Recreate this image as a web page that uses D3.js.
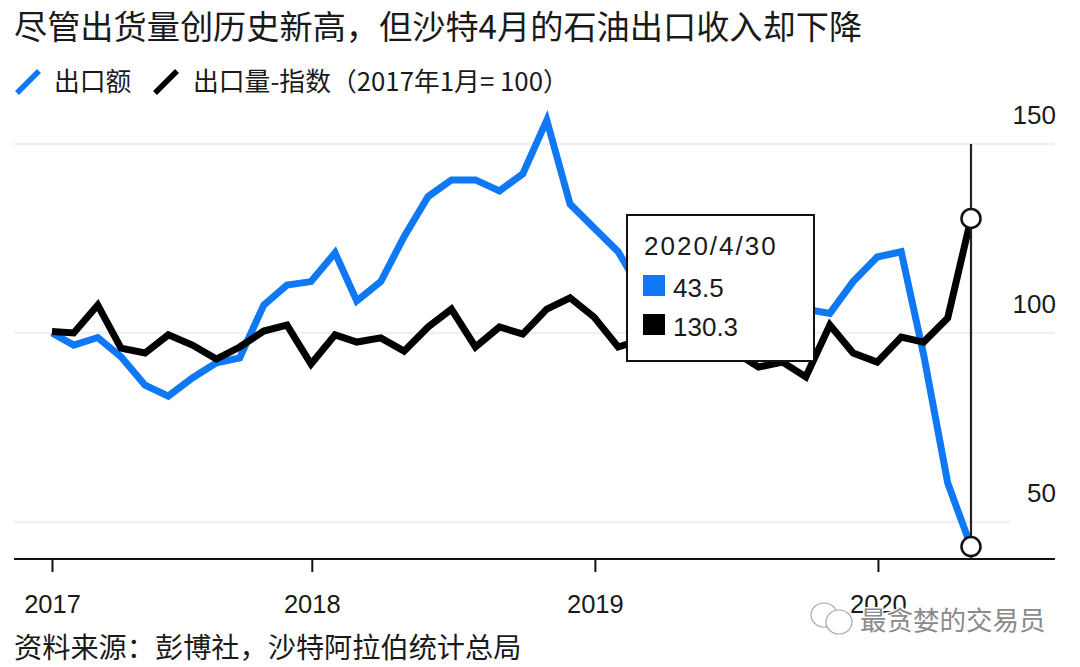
<!DOCTYPE html>
<html>
<head>
<meta charset="utf-8">
<script src="https://cdn.jsdelivr.net/npm/d3@7"></script>
<style>
  html, body { margin: 0; padding: 0; background: #fff; }
  svg { display: block; }
  text { font-family: "Noto Sans CJK SC", "Liberation Sans", sans-serif; fill: #1a1a1a; }
  .num { font-family: "Liberation Sans", sans-serif; }
</style>
</head>
<body>
<svg width="1080" height="667"></svg>
<script>
// month end dates, jan 2017 to apr 2020
var months = [
  "2017-01-31","2017-02-28","2017-03-31","2017-04-30","2017-05-31","2017-06-30","2017-07-31","2017-08-31","2017-09-30","2017-10-31","2017-11-30","2017-12-31",
  "2018-01-31","2018-02-28","2018-03-31","2018-04-30","2018-05-31","2018-06-30","2018-07-31","2018-08-31","2018-09-30","2018-10-31","2018-11-30","2018-12-31",
  "2019-01-31","2019-02-28","2019-03-31","2019-04-30","2019-05-31","2019-06-30","2019-07-31","2019-08-31","2019-09-30","2019-10-31","2019-11-30","2019-12-31",
  "2020-01-31","2020-02-29","2020-03-31","2020-04-30"
];

// the stretch behind the tooltip (mid 2019) is a guess
var exportValue = [
  100, 96.8, 98.8, 93.7, 86.2, 83.3, 88.1, 92.1, 93.4, 107.4, 112.7, 113.6,
  121.2, 108.5, 113.6, 125.5, 136.1, 140.5, 140.5, 137.6, 142.1, 156.3, 134.1, 127.8,
  121.5, 111.9, 108.7, 107.4, 108.7, 107.9, 108.7, 107.4, 106.3, 105.2, 113.6, 120.1,
  121.5, 94.2, 60.3, 43.5
];
var exportVolume = [
  100.4, 100, 107.4, 96, 94.7, 99.5, 96.8, 93.1, 96.3, 100.5, 102.1, 91.8,
  99.5, 97.6, 98.7, 95.2, 101.6, 106.3, 96.3, 101.6, 99.7, 106.3, 109.3, 104.2,
  96.3, 98.1, 96.8, 95.5, 94.2, 95, 91, 92.3, 88.4, 102.1, 94.7, 92.3,
  98.9, 97.6, 104, 130.3
];

var xTickDates = ["2017-01-31","2018-01-01","2019-01-01","2020-01-01"];
var xTickLabels = ["2017","2018","2019","2020"];
var yTicks = [150, 100, 50];

var titleText = "尽管出货量创历史新高，但沙特4月的石油出口收入却下降";
var sourceText = "资料来源：彭博社，沙特阿拉伯统计总局";
var legendNames = ["出口额", "出口量-指数（2017年1月= 100）"];
var tipDate = "2020/4/30";

var blue = "#0f78f5", black = "#000";

var svg = d3.select("svg");
var parseDate = d3.utcParse("%Y-%m-%d");
var dates = months.map(parseDate);

var x = d3.scaleUtc().domain([dates[0], dates[dates.length - 1]]).range([52, 971]);
var y = d3.scaleLinear().domain([50, 150]).range([522, 144]);

// grid, the 50 line stops short in the original
svg.append("g").selectAll("line")
    .data(yTicks)
    .enter().append("line")
      .attr("x1", 14)
      .attr("x2", function(d) { return d == 50 ? 1010 : 1055; })
      .attr("y1", function(d) { return y(d); })
      .attr("y2", function(d) { return y(d); })
      .attr("stroke", "#f0f0f0")
      .attr("stroke-width", 2.5);

// y labels sit above their grid line
var yAxis = svg.append("g")
    .attr("transform", "translate(1056,0)")
    .call(d3.axisLeft(y).tickValues(yTicks).tickSize(0).tickPadding(0));
yAxis.select(".domain").remove();
yAxis.selectAll("text")
    .attr("class", "num")
    .attr("dy", -21)
    .style("font-size", "26px")
    .style("font-family", '"Liberation Sans", sans-serif');

// x axis
var xAxis = svg.append("g")
    .attr("transform", "translate(0,559)")
    .call(d3.axisBottom(x)
      .tickValues(xTickDates.map(parseDate))
      .tickSize(13)
      .tickPadding(23)
      .tickFormat(function(d, i) { return xTickLabels[i]; }));
xAxis.select(".domain").attr("d", "M14,0H1055").attr("stroke", "#111").attr("stroke-width", 2);
xAxis.selectAll(".tick line").attr("stroke", "#111").attr("stroke-width", 2);
xAxis.selectAll("text")
    .attr("class", "num")
    .style("font-size", "25.5px")
    .style("font-family", '"Liberation Sans", sans-serif');

var line = d3.line()
    .x(function(d, i) { return x(dates[i]); })
    .y(function(d) { return y(d); });

svg.append("path")
    .attr("d", line(exportValue))
    .attr("fill", "none").attr("stroke", blue).attr("stroke-width", 7);
svg.append("path")
    .attr("d", line(exportVolume))
    .attr("fill", "none").attr("stroke", black).attr("stroke-width", 7);

// crosshair + markers on the last month
var lastDate = dates[dates.length - 1];
var lastValues = [exportValue[exportValue.length - 1], exportVolume[exportVolume.length - 1]];

svg.append("line")
    .attr("x1", x(lastDate)).attr("x2", x(lastDate))
    .attr("y1", y(150)).attr("y2", 559)
    .attr("stroke", "#222").attr("stroke-width", 2.2);

svg.selectAll(".marker")
    .data(lastValues)
    .enter().append("circle")
      .attr("class", "marker")
      .attr("cx", x(lastDate))
      .attr("cy", function(d) { return y(d); })
      .attr("r", 9.5)
      .attr("fill", "#fff")
      .attr("stroke", "#111")
      .attr("stroke-width", 2.5);

// tooltip
var tip = svg.append("g").attr("transform", "translate(627,215)");
tip.append("rect")
    .attr("width", 187).attr("height", 146)
    .attr("fill", "#fff").attr("stroke", "#111").attr("stroke-width", 2);
tip.append("text")
    .attr("class", "num")
    .attr("x", 17).attr("y", 40)
    .style("font-size", "26px")
    .style("letter-spacing", "2px")
    .text(tipDate);

var tipRows = tip.selectAll(".row")
    .data(lastValues)
    .enter().append("g")
      .attr("class", "row")
      .attr("transform", function(d, i) { return "translate(16," + (60 + i * 39) + ")"; });
tipRows.append("rect")
    .attr("width", 22).attr("height", 21)
    .attr("fill", function(d, i) { return i == 0 ? blue : black; });
tipRows.append("text")
    .attr("class", "num")
    .attr("x", 30).attr("y", 22)
    .style("font-size", "26px")
    .text(function(d) { return d; });

// title and legend
svg.append("text")
    .attr("x", 14).attr("y", 39)
    .style("font-size", "33.2px")
    .text(titleText);

var legendX = [17, 155];
var legendTextX = [54, 193];
legendNames.forEach(function(name, i) {
  svg.append("line")
      .attr("x1", legendX[i]).attr("y1", 93)
      .attr("x2", legendX[i] + 22).attr("y2", 71)
      .attr("stroke", i == 0 ? blue : black)
      .attr("stroke-width", 5.5);
  svg.append("text")
      .attr("x", legendTextX[i]).attr("y", 91)
      .style("font-size", "25.8px")
      .text(name);
});

svg.append("text")
    .attr("x", 14).attr("y", 658)
    .style("font-size", "28.2px")
    .text(sourceText);

// wechat watermark over the bottom right
var mark = svg.append("g").attr("fill", "#fff").attr("stroke", "#aaa").attr("stroke-width", 1.2);
mark.append("ellipse").attr("cx", 824).attr("cy", 615).attr("rx", 13).attr("ry", 12);
mark.append("ellipse").attr("cx", 839).attr("cy", 622).attr("rx", 13).attr("ry", 12);
svg.append("text")
    .attr("x", 860).attr("y", 630)
    .style("font-size", "26.5px")
    .style("fill", "#8a8a8a")
    .style("stroke", "#fff")
    .style("stroke-width", 3)
    .style("paint-order", "stroke")
    .text("最贪婪的交易员");
</script>
</body>
</html>
